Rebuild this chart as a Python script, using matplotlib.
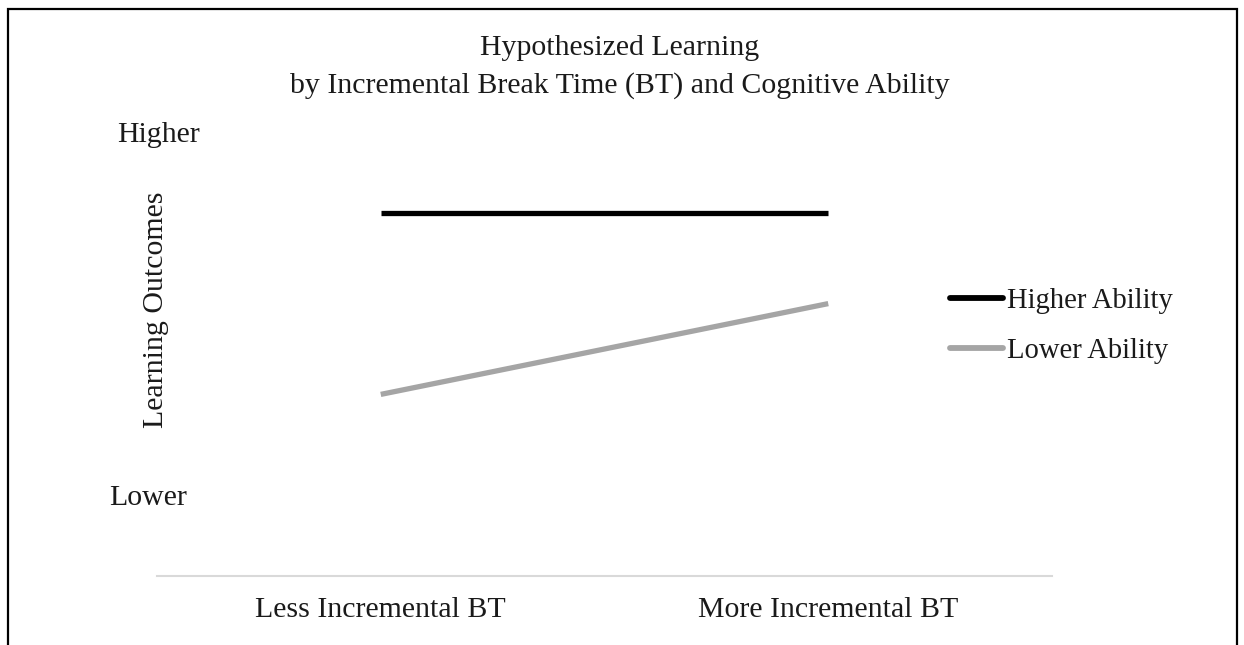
import matplotlib
matplotlib.use("Agg")
import matplotlib.pyplot as plt
from matplotlib.patches import Rectangle

categories = ["Less Incremental BT", "More Incremental BT"]
higher_ability = [4, 4]
lower_ability = [2, 3]
series_names = ["Higher Ability", "Lower Ability"]
title_lines = ["Hypothesized Learning", "by Incremental Break Time (BT) and Cognitive Ability"]

plt.rcParams['font.family'] = ['Liberation Serif', 'DejaVu Serif']
FS = 21.5
LFS = 20.6
TC = '#1a1a1a'

W, H = 1244, 645
fig = plt.figure(figsize=(W / 100, H / 100), dpi=100)
fig.patch.set_facecolor('white')

def fx(px):
    return px / W

def fy(py):
    return 1 - py / H

# axes: x from 157 to 1052 px, y baseline at 576 px, top (value 5) at ~122 px
ax = fig.add_axes([fx(157), fy(576), fx(1052) - fx(157), fy(122) - fy(576)])
x = list(range(len(categories)))
ax.plot(x, higher_ability, color='black', lw=3.8, solid_capstyle='butt', label=series_names[0])
ax.plot(x, lower_ability, color='#A5A5A5', lw=3.8, solid_capstyle='butt', label=series_names[1])
ax.set_xlim(-0.5, 1.5)
ax.set_ylim(0, 5)
ax.set_xticks(x)
ax.set_xticklabels(categories, fontsize=FS, color=TC)
ax.tick_params(axis='x', length=0, pad=15)
ax.set_yticks([])
for s in ['top', 'right', 'left']:
    ax.spines[s].set_visible(False)
ax.spines['bottom'].set_color('#D9D9D9')
ax.spines['bottom'].set_linewidth(1.5)
ax.patch.set_alpha(0)

leg = fig.legend(loc='center left', bbox_to_anchor=(fx(950), fy(326)), frameon=False,
                 fontsize=LFS, handlelength=1.85, handletextpad=0.13, labelspacing=0.85,
                 borderaxespad=0, borderpad=0)
for t in leg.get_texts():
    t.set_color(TC)
for h in leg.get_lines():
    h.set_solid_capstyle('round')
    h.set_linewidth(4.2)

fig.text(fx(620), fy(55), title_lines[0], ha='center', va='baseline', fontsize=FS, color=TC)
fig.text(fx(620), fy(93), title_lines[1], ha='center', va='baseline', fontsize=FS, color=TC)
fig.text(fx(159), fy(142), "Higher", ha='center', va='baseline', fontsize=FS, color=TC)
fig.text(fx(148), fy(505), "Lower", ha='center', va='baseline', fontsize=FS, color=TC)
fig.text(fx(156), fy(310), "Learning Outcomes", ha='center', va='center', rotation=90,
         fontsize=FS, color=TC)

fig.add_artist(Rectangle((fx(8), fy(700)), fx(1237) - fx(8), fy(9) - fy(700),
                         transform=fig.transFigure, fill=False, edgecolor='black', lw=1.6))

fig.savefig('out.png', dpi=100)
